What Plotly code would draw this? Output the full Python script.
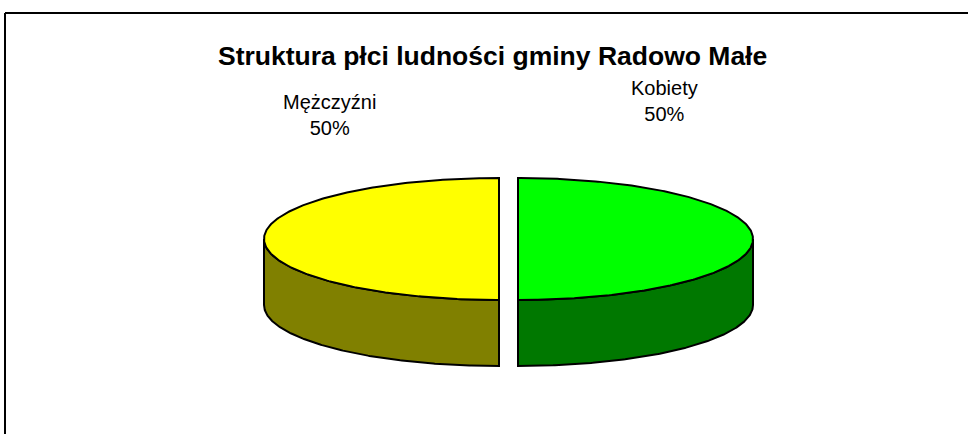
import numpy as np
import plotly.graph_objects as go

# ---- data ----
categories = ["Kobiety", "Mężczyźni"]
values = [50, 50]
title_text = "Struktura płci ludności gminy Radowo Małe"

# ---- style ----
W, H = 968, 434
top_colors = {"Kobiety": "#00FF00", "Mężczyźni": "#FFFF00"}
side_colors = {"Kobiety": "#007800", "Mężczyźni": "#808000"}
CX, CY = 508.5, 239.0      # pie centre (pixels)
RX, RY = 235.0, 61.0       # ellipse radii
DEPTH = 66.0               # thickness
EXPLODE = 9.5              # explosion offset
label_pos = {"Kobiety": (664, 101), "Mężczyźni": (329, 115)}
FONT = "Liberation Sans, Arial, sans-serif"

fig = go.Figure()

total = float(sum(values))
starts = np.cumsum([0] + values[:-1]) / total * 2 * np.pi
ends = np.cumsum(values) / total * 2 * np.pi


def rim(t, cx, cy, dz=0.0):
    return cx + RX * np.sin(t), cy - RY * np.cos(t) + dz


slice_geo = []
for cat, v, a0, a1 in zip(categories, values, starts, ends):
    m = (a0 + a1) / 2
    cx = CX + EXPLODE * np.sin(m)
    cy = CY - EXPLODE * RY / RX * np.cos(m)
    slice_geo.append((cat, v, a0, a1, cx, cy))

# side faces (front half only: angles between 90 and 270 deg)
for cat, v, a0, a1, cx, cy in slice_geo:
    lo, hi = max(a0, np.pi / 2), min(a1, 3 * np.pi / 2)
    if hi <= lo:
        continue
    t = np.linspace(lo, hi, 200)
    xt, yt = rim(t, cx, cy)
    xb, yb = rim(t[::-1], cx, cy, DEPTH)
    xs = np.concatenate([xt, xb, xt[:1]])
    ys = np.concatenate([yt, yb, yt[:1]])
    fig.add_trace(go.Scatter(x=xs, y=ys, mode="lines", fill="toself",
                             fillcolor=side_colors[cat],
                             line=dict(color="black", width=2),
                             hoverinfo="skip", showlegend=False))

# top faces
for cat, v, a0, a1, cx, cy in slice_geo:
    t = np.linspace(a0, a1, 300)
    xt, yt = rim(t, cx, cy)
    xs = np.concatenate([[cx], xt, [cx]])
    ys = np.concatenate([[cy], yt, [cy]])
    fig.add_trace(go.Scatter(x=xs, y=ys, mode="lines", fill="toself",
                             fillcolor=top_colors[cat],
                             line=dict(color="black", width=2),
                             hoverinfo="skip", showlegend=False))

# data labels
for cat, v, a0, a1, cx, cy in slice_geo:
    lx, ly = label_pos[cat]
    fig.add_annotation(x=lx, y=ly, xref="x", yref="y",
                       text=f"{cat}<br>{round(v / total * 100)}%",
                       showarrow=False, xanchor="center", yanchor="middle",
                       font=dict(family=FONT, size=20, color="black"))

# title
fig.add_annotation(x=492, y=56, xref="x", yref="y", text=f"<b>{title_text}</b>",
                   showarrow=False, xanchor="center", yanchor="middle",
                   font=dict(family=FONT, size=26.5, color="black"))

# chart frame
fig.add_shape(type="line", x0=5, x1=5, y0=13, y1=H + 10, xref="x", yref="y",
              line=dict(color="black", width=2))
fig.add_shape(type="line", x0=5, x1=W + 10, y0=13, y1=13, xref="x", yref="y",
              line=dict(color="black", width=2))

fig.update_layout(
    width=W, height=H,
    margin=dict(l=0, r=0, t=0, b=0),
    paper_bgcolor="white", plot_bgcolor="white",
    xaxis=dict(range=[0, W], visible=False, fixedrange=True),
    yaxis=dict(range=[H, 0], visible=False, fixedrange=True),
    showlegend=False,
)

fig.write_html("out.html", config={"displayModeBar": False},
               post_script="document.body.style.margin='0';document.body.style.overflow='hidden';")
